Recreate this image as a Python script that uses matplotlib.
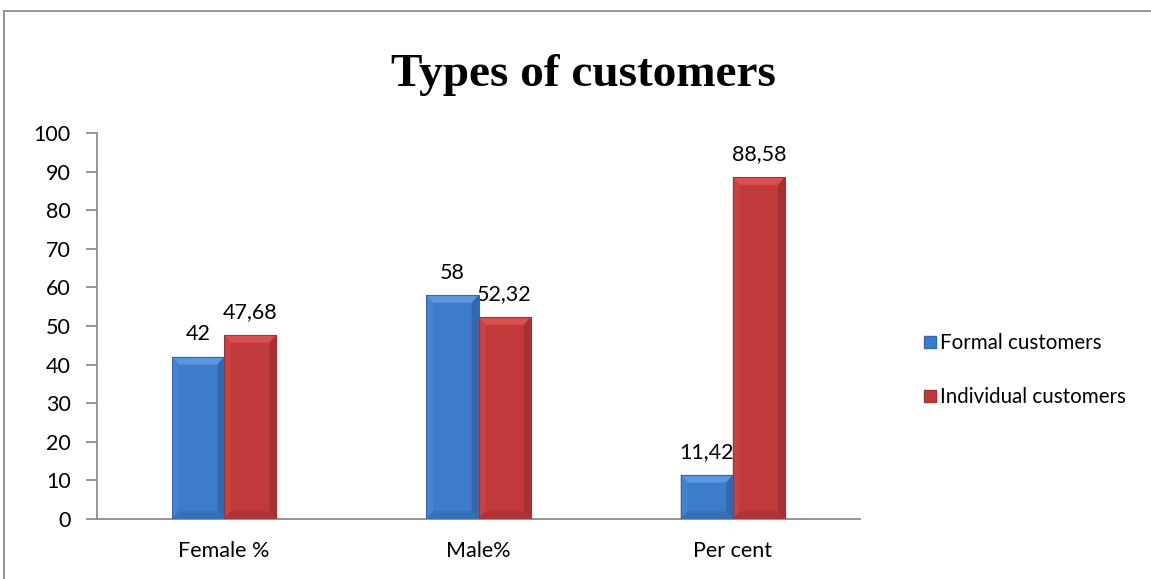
import matplotlib.pyplot as plt
import numpy as np
from matplotlib.patches import Polygon, Rectangle
from matplotlib.lines import Line2D

categories = ['Female %', 'Male%', 'Per cent']
formal = [42, 58, 11.42]
individual = [47.68, 52.32, 88.58]
formal_labels = ['42', '58', '11,42']
individual_labels = ['47,68', '52,32', '88,58']
series_names = ['Formal customers', 'Individual customers']

# face, top, left, right, bottom shades
blue = ['#3D7CC8', '#5A97DE', '#4483CF', '#3468AE', '#3670B8']
red = ['#C0393B', '#D95050', '#C84242', '#A33032', '#AE3436']

fig = plt.figure(figsize=(11.51, 5.79), dpi=100)
ax = fig.add_axes([97 / 1151, 1 - 519 / 579, (860 - 97) / 1151, (519 - 133) / 579])

x = np.arange(len(categories))
w = 0.205


def bevel_bars(xs, vals, shades):
    bars = ax.bar(xs, vals, w, color=shades[0], edgecolor='none', zorder=2)
    bx = w * 0.13
    by = 2.0
    for r in bars:
        x0, h = r.get_x(), r.get_height()
        x1 = x0 + r.get_width()
        ax.add_patch(Polygon([(x0, h), (x1, h), (x1 - bx, h - by), (x0 + bx, h - by)],
                             closed=True, color=shades[1], lw=0, zorder=3))
        ax.add_patch(Polygon([(x0, 0), (x0, h), (x0 + bx, h - by), (x0 + bx, by)],
                             closed=True, color=shades[2], lw=0, zorder=3))
        ax.add_patch(Polygon([(x1, 0), (x1, h), (x1 - bx, h - by), (x1 - bx, by)],
                             closed=True, color=shades[3], lw=0, zorder=3))
        ax.add_patch(Polygon([(x0, 0), (x1, 0), (x1 - bx, by), (x0 + bx, by)],
                             closed=True, color=shades[4], lw=0, zorder=3))
        ax.add_patch(Rectangle((x0, 0), r.get_width(), h, fill=False,
                               ec=shades[3], lw=0.8, zorder=4))
    return bars


b1 = bevel_bars(x - w / 2, formal, blue)
b2 = bevel_bars(x + w / 2, individual, red)

for bars, labs in [(b1, formal_labels), (b2, individual_labels)]:
    for r, t in zip(bars, labs):
        ax.annotate(t, (r.get_x() + r.get_width() / 2, r.get_height()),
                    xytext=(0, 9), textcoords='offset points', ha='center', va='bottom',
                    fontsize=15.5, family='Lato')

ax.set_xlim(-0.5, 2.5)
ax.set_ylim(0, 100)
ax.set_yticks(np.arange(0, 101, 10))
ax.set_xticks(x)
ax.set_xticklabels(categories)
for s in ['top', 'right']:
    ax.spines[s].set_visible(False)
for s in ['left', 'bottom']:
    ax.spines[s].set_color('#8C8C8C')
    ax.spines[s].set_linewidth(1.3)
ax.tick_params(axis='y', direction='out', length=8, width=1.3, color='#8C8C8C', pad=11, labelsize=15.5)
ax.tick_params(axis='x', length=0, pad=16, labelsize=15.5)
for lab in ax.get_xticklabels() + ax.get_yticklabels():
    lab.set_family('Lato')

fig.text(583 / 1151, 1 - 75 / 579, 'Types of customers', ha='center', va='center',
         fontsize=34, fontweight='bold', family='Liberation Serif')

handles = [Line2D([], [], ls='none', marker='s', markersize=8, markerfacecolor=blue[0],
                  markeredgecolor=blue[3]),
           Line2D([], [], ls='none', marker='s', markersize=8, markerfacecolor=red[0],
                  markeredgecolor=red[3])]
fig.legend(handles, series_names, loc='center left', bbox_to_anchor=(915 / 1151, 1 - 370 / 579),
           frameon=False, prop={'family': 'Lato', 'size': 14.8}, handlelength=0.7,
           handletextpad=0.1, labelspacing=1.65, borderaxespad=0)

# outer chart border
fig.add_artist(Rectangle((4 / 1151, -0.1), 1.2, 1 - 11 / 579 + 0.1, transform=fig.transFigure,
                         fill=False, ec='#8C8C8C', lw=1.3))

fig.savefig('out.png', dpi=100)
